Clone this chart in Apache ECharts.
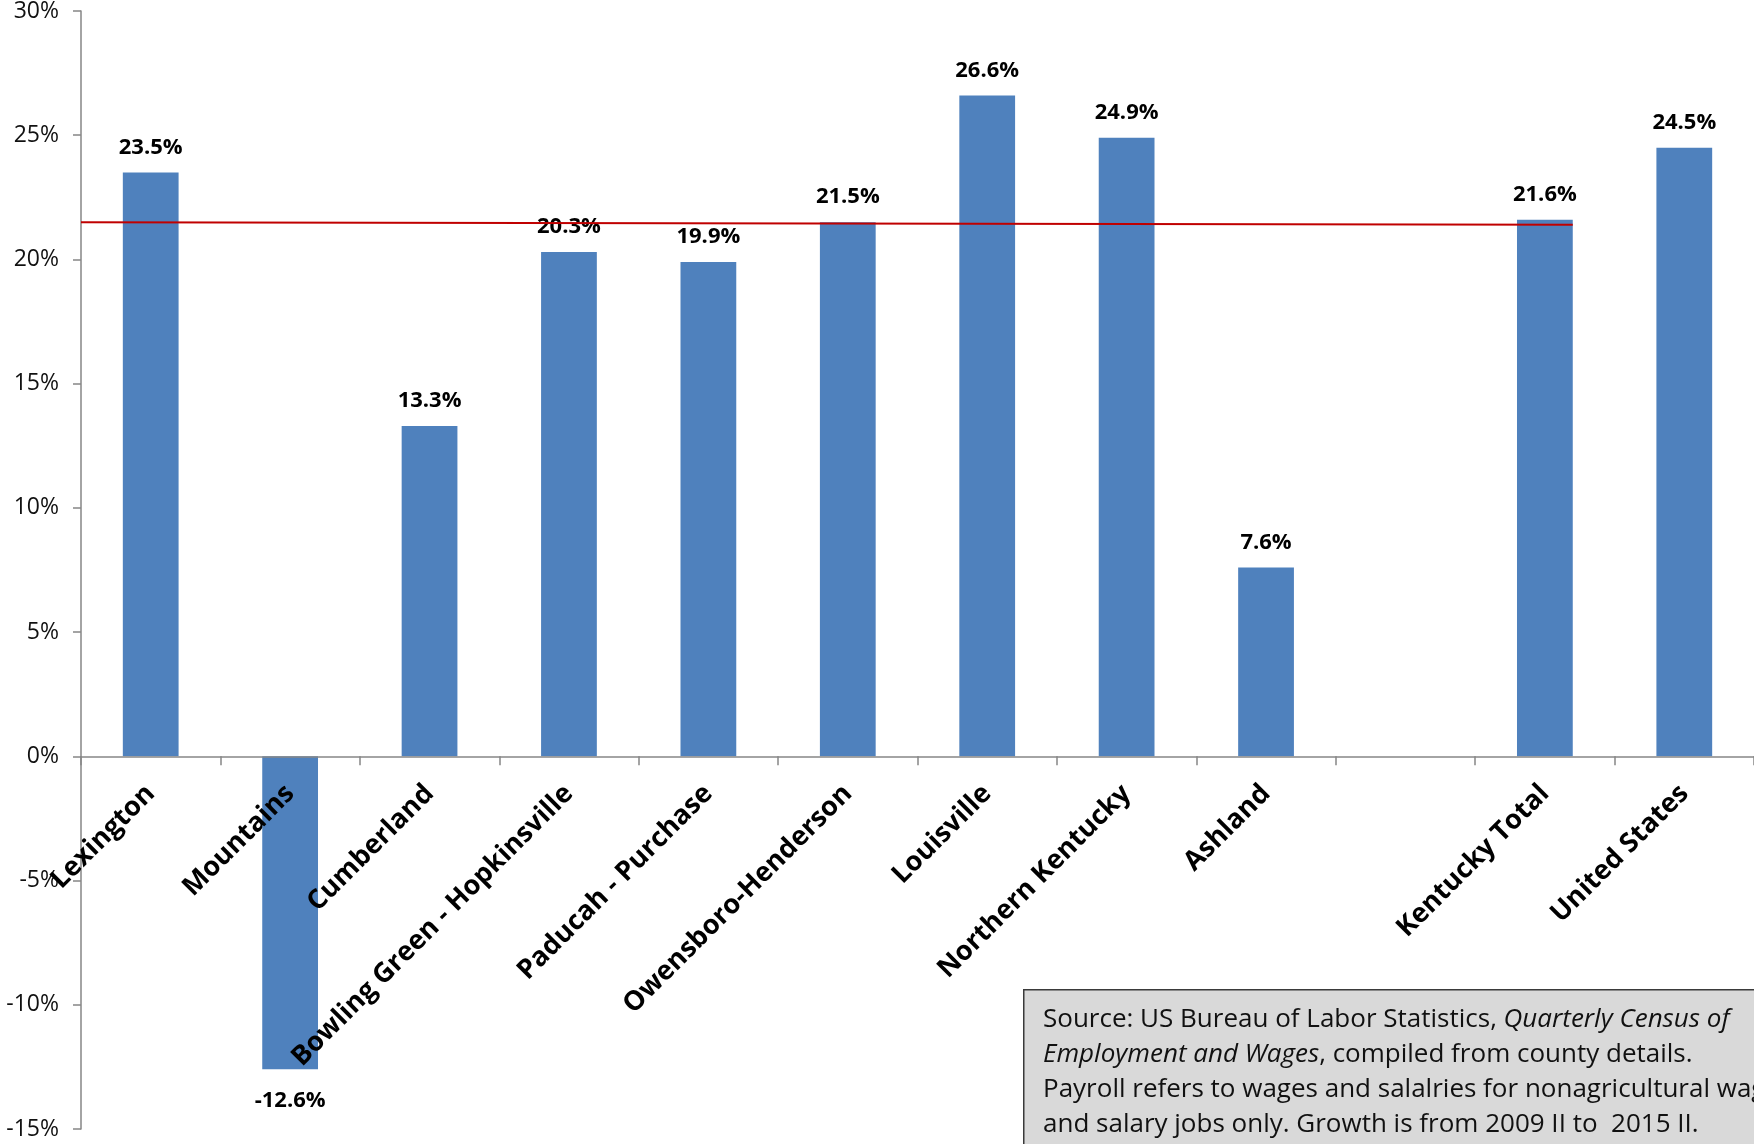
<!DOCTYPE html>
<html>
<head>
<meta charset="utf-8">
<title>Payroll growth by Kentucky region</title>
<script src="https://cdn.jsdelivr.net/npm/echarts@6/dist/echarts.min.js"></script>
<style>
  html, body { margin: 0; padding: 0; background: #fff; }
  #chart { width: 1754px; height: 1144px; }
</style>
</head>
<body>
<div id="chart"></div>
<script>
// Regions (the empty slot separates the regions from the totals)
const categories = [
  'Lexington', 'Mountains', 'Cumberland', 'Bowling Green - Hopkinsville',
  'Paducah - Purchase', 'Owensboro-Henderson', 'Louisville', 'Northern Kentucky',
  'Ashland', '', 'Kentucky Total', 'United States'
];
// Payroll growth, percent
const growth = [23.5, -12.6, 13.3, 20.3, 19.9, 21.5, 26.6, 24.9, 7.6, null, 21.6, 24.5];
// Reference line: level at the axis and at the end of the Kentucky Total bar
const stateLine = [21.5, 21.4];
const yTicks = { min: -15, max: 30, step: 5 };

const sourceLines = [
  'Source: US Bureau of Labor Statistics, {i|Quarterly Census of}',
  '{i|Employment and Wages}, compiled from county details.',
  'Payroll refers to wages and salalries for nonagricultural wage',
  'and salary jobs only. Growth is from 2009 II to  2015 II.'
];

const BAR_FRACTION = 0.4;
const FONT = '"Open Sans", "Noto Sans", sans-serif';
const GRID = { left: 81, right: 0, top: 11, bottom: 15 };

const lineEndSlot = categories.indexOf('Kentucky Total') + 0.5 + BAR_FRACTION / 2;

const chart = echarts.init(document.getElementById('chart'), null, { renderer: 'canvas' });

const barData = growth.map(v => {
  if (v === null) return '-';
  return {
    value: v,
    label: v < 0
      ? { position: 'bottom', distance: 20 }
      : { position: 'top', distance: 14 }
  };
});

chart.setOption({
  animation: false,
  backgroundColor: '#ffffff',
  grid: Object.assign({ containLabel: false, outerBoundsMode: 'none' }, GRID),
  xAxis: [
    {
      type: 'category',
      data: categories,
      position: 'bottom',
      offset: 0,
      z: 5,
      axisLine: { onZero: false, lineStyle: { color: '#868686', width: 1.5 } },
      axisTick: { show: true, alignWithLabel: false, length: 9, inside: false,
                  lineStyle: { color: '#868686', width: 1.5 } },
      axisLabel: {
        interval: 0, rotate: 45, margin: 33,
        color: '#000', fontFamily: FONT, fontWeight: 'bold', fontSize: 27
      },
      splitLine: { show: false }
    },
    {
      type: 'value', min: 0, max: categories.length, show: false
    }
  ],
  yAxis: {
    type: 'value',
    min: yTicks.min, max: yTicks.max, interval: yTicks.step,
    axisLine: { show: true, lineStyle: { color: '#868686', width: 1.5 } },
    axisTick: { show: true, length: 8, lineStyle: { color: '#868686', width: 1.5 } },
    axisLabel: {
      formatter: v => v + '%', margin: 22,
      color: '#111', fontFamily: FONT, fontSize: 23
    },
    splitLine: { show: false }
  },
  series: [
    {
      type: 'bar',
      data: barData,
      barWidth: (BAR_FRACTION * 100) + '%',
      itemStyle: { color: '#4f81bd' },
      label: {
        show: true,
        formatter: p => p.value.toFixed(1) + '%',
        color: '#000', fontFamily: FONT, fontWeight: 'bold', fontSize: 22
      },
      z: 2
    },
    {
      type: 'line',
      xAxisIndex: 1,
      data: [[0, stateLine[0]], [lineEndSlot, stateLine[1]]],
      symbol: 'none',
      lineStyle: { color: '#c00000', width: 2 },
      z: 4
    }
  ],
  graphic: [
    {
      type: 'rect',
      left: 1023, top: 989,
      shape: { width: 760, height: 180 },
      style: { fill: '#d9d9d9', stroke: '#3a3a3a', lineWidth: 1.5 },
      z: 10
    },
    {
      type: 'text',
      left: 1043, top: 1002,
      style: {
        text: sourceLines.join('\n'),
        fontFamily: FONT, fontSize: 26, lineHeight: 35, fill: '#111',
        rich: { i: { fontStyle: 'italic', fontFamily: FONT, fontSize: 26, lineHeight: 35, fill: '#111' } }
      },
      z: 11
    }
  ]
});

// Lift the category axis (line, ticks and labels) up to the 0% level
const zeroY = chart.convertToPixel({ yAxisIndex: 0 }, 0);
const bottomY = chart.convertToPixel({ yAxisIndex: 0 }, yTicks.min);
chart.setOption({ xAxis: [{ offset: -(bottomY - zeroY) }, {}] });
</script>
</body>
</html>
